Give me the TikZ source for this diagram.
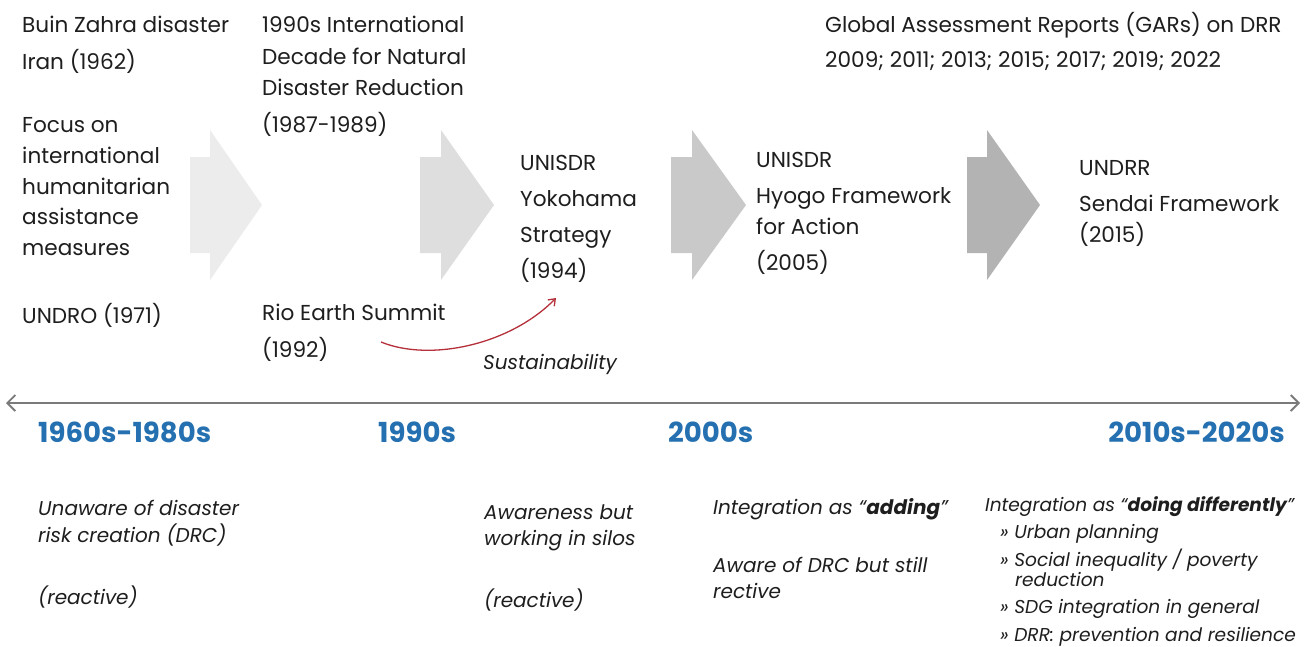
\documentclass[tikz,border=0pt]{standalone}
\usepackage{fontspec}
\setmainfont{Poppins}
\usetikzlibrary{arrows.meta}
\definecolor{ink}{HTML}{1E1E1E}
\definecolor{erablue}{HTML}{2470B0}
\definecolor{curvered}{HTML}{B5303A}
\definecolor{axisgray}{HTML}{7A7A7A}
\definecolor{chevA}{HTML}{ECECEC}
\definecolor{chevB}{HTML}{DEDEDE}
\definecolor{chevC}{HTML}{C9C9C9}
\definecolor{chevD}{HTML}{B3B3B3}
% multi-line nodes are placed by the baseline of their last line
\tikzset{
  toptext/.style={anchor=base west, inner sep=0pt, align=left, text=ink,
    font=\fontsize{21.6}{31}\selectfont},
  note/.style={anchor=base west, inner sep=0pt, align=left, text=ink,
    font=\fontsize{20}{26}\selectfont\itshape},
  bullet/.style={anchor=base west, inner sep=0pt, align=left, text=ink,
    font=\fontsize{18.6}{20}\selectfont\itshape},
  era/.style={anchor=base west, inner sep=0pt, text=erablue,
    font=\fontsize{27.6}{30}\selectfont\bfseries},
}
% chevron: body from #1 to #2, head from #2 to the tip at #3, fill #4
\newcommand{\chevronshape}[4]{%
  \fill[#4] (#1,157) -- (#2,157) -- (#2,130) -- (#3,205) -- (#2,280)
    -- (#2,253) -- (#1,253) -- cycle;}
\begin{document}
\begin{tikzpicture}[x=1pt,y=-1pt]
\useasboundingbox (0,0) rectangle (1306,646);
\fill[white] (0,0) rectangle (1306,646);

% progression chevrons
\chevronshape{190}{210}{262}{chevA}
\chevronshape{420}{441}{494}{chevB}
\chevronshape{671}{692}{746}{chevC}
\chevronshape{967}{987}{1040}{chevD}

% upper timeline entries
\node[toptext, font=\fontsize{21.6}{37}\selectfont] (buin) at (22,69.5)
  {Buin Zahra disaster\\Iran (1962)};
\node[toptext, font=\fontsize{21.6}{30.75}\selectfont] (focus) at (22,255.5)
  {Focus on\\international\\humanitarian\\assistance\\measures};
\node[toptext] (undro) at (22,323.5) {UNDRO (1971)};
\node[toptext, font=\fontsize{21.6}{31.5}\selectfont] (idndr) at (262,132.5)
  {1990s International\\Decade for Natural\\Disaster Reduction\\[5.5pt](1987-1989)};
\node[toptext, font=\fontsize{21.6}{37}\selectfont] (rio) at (262,357.5)
  {Rio Earth Summit\\(1992)};
\node[toptext, font=\fontsize{21.6}{36}\selectfont] (yoko) at (520,278.5)
  {UNISDR\\Yokohama\\Strategy\\(1994)};
\node[toptext] (hyogo) at (756,270.5)
  {UNISDR\\[5pt]Hyogo Framework\\for Action\\[5pt](2005)};
\node[toptext] (sendai) at (1079,242.5)
  {UNDRR\\[5pt]Sendai Framework\\(2015)};
\node[toptext, font=\fontsize{21.6}{35}\selectfont] (gar) at (825,67.5)
  {Global Assessment Reports (GARs) on DRR\\2009; 2011; 2013; 2015; 2017; 2019; 2022};

% Rio to Yokohama influence
\coordinate (curvestart) at (381,342);
\coordinate (curveend) at (556,298);
\draw[curvered, line width=1.3pt, -{Straight Barb[length=6pt,width=9pt]}]
  (curvestart) .. controls (430,362) and (510,345) .. (curveend);
\node[note] (sustain) at (483,369) {Sustainability};

% time axis
\coordinate (axisL) at (6,403);
\coordinate (axisR) at (1300,403);
\draw[axisgray, line width=1.8pt,
  {Straight Barb[length=8pt,width=16pt]}-{Straight Barb[length=8pt,width=16pt]}]
  (axisL) -- (axisR);

% eras
\node[era] (e1) at (38,442) {1960s-1980s};
\node[era] (e2) at (378,442) {1990s};
\node[era] (e3) at (668,442) {2000s};
\node[era, anchor=base east] (e4) at (1285,442) {2010s-2020s};

% characterisation of each era
\node[note, font=\fontsize{20}{27}\selectfont\itshape] (n1) at (38,542)
  {Unaware of disaster\\risk creation (DRC)};
\node[note] (n1b) at (38,604) {(reactive)};
\node[note] (n2) at (484,545) {Awareness but\\working in silos};
\node[note] (n2b) at (484,607) {(reactive)};
\node[note] (n3) at (713,514) {Integration as “\textbf{adding}”};
\node[note] (n3b) at (713,598) {Aware of DRC but still\\rective};
\node[bullet] (n4) at (985,511.5) {Integration as “\textbf{doing differently}”};
\node[bullet] (b1) at (1000,538.5) {» Urban planning};
\node[bullet] (b2) at (1000,586.5)
  {» Social inequality / poverty\\\hspace*{15pt}reduction};
\node[bullet] (b3) at (1000,613.5) {» SDG integration in general};
\node[bullet] (b4) at (1000,641.5) {» DRR: prevention and resilience};
\end{tikzpicture}
\end{document}
